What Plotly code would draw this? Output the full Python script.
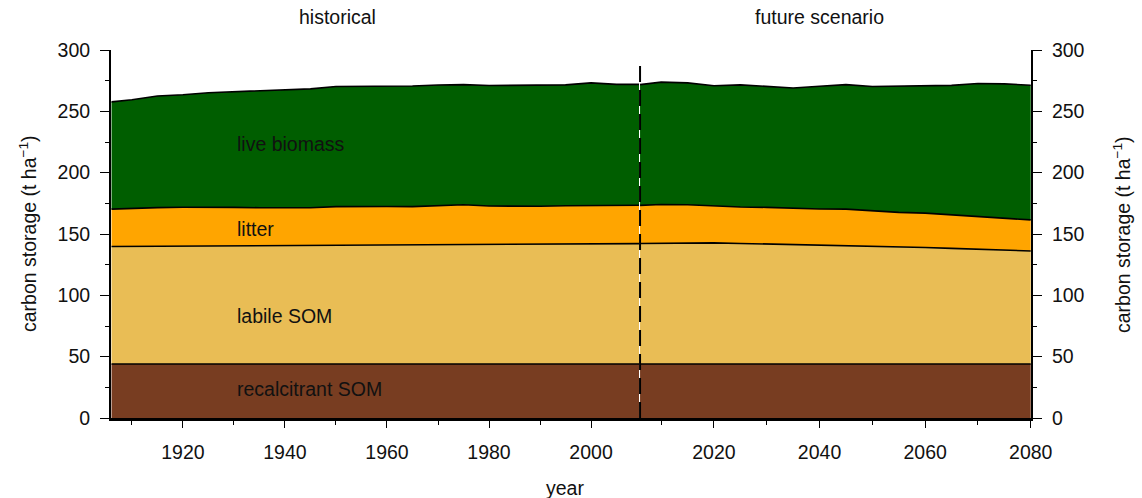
import plotly.graph_objects as go

# Carbon pools (t ha-1), stacked from the bottom up
hist_years = [1906, 1910, 1915, 1920, 1925, 1930, 1935, 1940, 1945, 1950, 1955,
              1960, 1965, 1970, 1975, 1980, 1985, 1990, 1995, 2000, 2005, 2010]
hist_recalcitrant = [44.0] * len(hist_years)
hist_labile = [95.8, 95.9, 96.0, 96.1, 96.2, 96.4, 96.4, 96.5, 96.6, 96.8, 97.0,
               97.2, 97.3, 97.5, 97.6, 97.8, 97.8, 97.9, 97.9, 98.0, 98.1, 98.2]
hist_litter = [30.5, 31.1, 31.5, 31.7, 31.7, 31.3, 31.0, 30.7, 30.8, 31.5, 31.6,
               31.2, 31.0, 31.7, 32.2, 31.0, 30.6, 30.7, 31.1, 31.3, 31.1, 31.3]
hist_live = [87.4, 88.5, 91.0, 91.7, 93.3, 94.3, 95.6, 96.3, 96.9, 98.0, 97.6,
             98.1, 98.3, 98.3, 98.0, 98.2, 98.9, 98.4, 98.6, 99.9, 98.8, 98.5]

fut_years = [2006, 2010, 2015, 2020, 2025, 2030, 2035, 2040, 2045, 2050, 2055,
             2060, 2065, 2070, 2075, 2080]
fut_recalcitrant = [44.0] * len(fut_years)
fut_labile = [98.2, 98.4, 98.8, 98.8, 98.3, 97.9, 97.4, 97.0, 96.7, 96.2, 95.6,
              95.0, 94.3, 93.5, 92.9, 92.2]
fut_litter = [31.1, 31.6, 31.0, 30.0, 29.7, 29.8, 29.6, 29.4, 29.6, 28.6, 28.0,
              28.0, 27.3, 27.0, 26.5, 25.3]
fut_live = [98.5, 99.8, 99.4, 98.0, 99.6, 98.6, 98.0, 100.1, 101.5, 101.5, 102.8,
            103.8, 105.6, 108.2, 109.0, 109.8]

pool_names = ["recalcitrant SOM", "labile SOM", "litter", "live biomass"]
pool_colors = ["#783D21", "#E9BD55", "#FFA500", "#005E00"]
label_year = 1930.3
label_values = [24, 83.5, 154, 223.5]

hist_x_range = [1905.9, 2009.4]
fut_x_range = [2005.8, 2080.05]
split_year = 2006
x_title = "year"
y_title = "carbon storage (t ha<sup>\u22121</sup>)"
period_titles = ["historical", "future scenario"]

FONT = "Arial, Liberation Sans, Helvetica, sans-serif"
FS = 19.5
split = 0.5739

fig = go.Figure()
hist_pools = [hist_recalcitrant, hist_labile, hist_litter, hist_live]
fut_pools = [fut_recalcitrant, fut_labile, fut_litter, fut_live]
for name, color, hv, fv in zip(pool_names, pool_colors, hist_pools, fut_pools):
    fig.add_trace(go.Scatter(
        x=hist_years, y=hv, xaxis="x", yaxis="y", stackgroup="hist",
        mode="lines", line=dict(color="black", width=1.6), fillcolor=color,
        name=name, showlegend=False, hoverinfo="skip"))
    fig.add_trace(go.Scatter(
        x=fut_years, y=fv, xaxis="x2", yaxis="y", stackgroup="fut",
        mode="lines", line=dict(color="black", width=1.6), fillcolor=color,
        name=name, showlegend=False, hoverinfo="skip"))

# pool labels inside the stacked areas
for name, yv in zip(pool_names, label_values):
    fig.add_annotation(x=label_year, y=yv, xref="x", yref="y", text=name,
                       showarrow=False, xanchor="left", yanchor="middle",
                       font=dict(family=FONT, size=FS, color="#111"))

# boundary between the historical and future periods
fig.add_shape(type="line", xref="x2", yref="y", x0=split_year, x1=split_year,
              y0=0, y1=292, line=dict(color="black", width=2, dash="16px,8px"))

xcommon = dict(showline=True, linecolor="black", linewidth=2.5, ticks="outside",
               ticklen=7, tickwidth=1.2, tickcolor="black", dtick=20,
               showgrid=False, zeroline=False, ticklabelstandoff=8,
               tickfont=dict(family=FONT, size=FS, color="#111"),
               minor=dict(dtick=10, ticks="outside", ticklen=4, tickcolor="black",
                          tickwidth=1.2, showgrid=False))
ycommon = dict(range=[0, 300], dtick=50, showline=True, linecolor="black",
               linewidth=2, ticks="outside", ticklen=9, tickwidth=1.2,
               tickcolor="black", showgrid=False, zeroline=False,
               ticklabelstandoff=6,
               tickfont=dict(family=FONT, size=FS, color="#111"),
               minor=dict(dtick=25, ticks="outside", ticklen=4, tickcolor="black",
                          tickwidth=1.2, showgrid=False))

fig.update_layout(
    width=1142, height=498,
    margin=dict(l=111, r=111, t=50, b=80),
    paper_bgcolor="white", plot_bgcolor="white",
    xaxis=dict(domain=[0, split], range=hist_x_range, tick0=1920, anchor="y",
               **xcommon),
    xaxis2=dict(domain=[split, 1], range=fut_x_range, tick0=2020, anchor="y",
                **xcommon),
    yaxis=dict(anchor="x", side="left", **ycommon),
    yaxis2=dict(anchor="x2", side="right", overlaying="y", matches="y", **ycommon),
    font=dict(family=FONT, size=FS, color="#111"),
)

# invisible trace so the right-hand axis is drawn
fig.add_trace(go.Scatter(x=[2080], y=[0], xaxis="x2", yaxis="y2", mode="markers",
                         marker=dict(opacity=0), showlegend=False, hoverinfo="skip"))

fig.add_annotation(text=x_title, xref="paper", yref="paper", x=0.4935, y=-0.19,
                   xanchor="center", yanchor="middle", showarrow=False,
                   font=dict(family=FONT, size=FS, color="#111"))
fig.add_annotation(text=y_title, xref="paper", yref="paper", x=-0.0902, y=0.5,
                   textangle=-90, xanchor="center", yanchor="middle", showarrow=False,
                   font=dict(family=FONT, size=FS, color="#111"))
fig.add_annotation(text=y_title, xref="paper", yref="paper", x=1.0989, y=0.5,
                   textangle=-90, xanchor="center", yanchor="middle", showarrow=False,
                   font=dict(family=FONT, size=FS, color="#111"))
fig.add_annotation(text=period_titles[0], xref="paper", yref="paper", x=0.2457, y=1.09,
                   xanchor="center", yanchor="middle", showarrow=False,
                   font=dict(family=FONT, size=FS, color="#111"))
fig.add_annotation(text=period_titles[1], xref="paper", yref="paper", x=0.7696, y=1.09,
                   xanchor="center", yanchor="middle", showarrow=False,
                   font=dict(family=FONT, size=FS, color="#111"))

fig.write_html("out.html")
